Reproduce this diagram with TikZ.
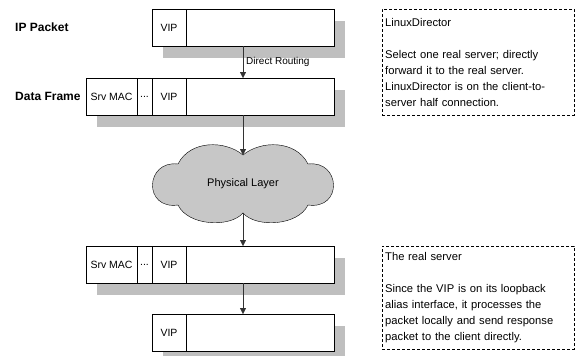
\documentclass[tikz,border=0pt]{standalone}
\usepackage{fontspec}
\setmainfont{Liberation Sans}
\usetikzlibrary{positioning,calc,arrows.meta,backgrounds}

\tikzset{
  field/.style={draw, fill=white, outer sep=0pt, inner sep=0pt, minimum height=37pt,
    font=\fontsize{10.5}{12}\selectfont},
  pktshadow/.style={fill=black!25},
  flow/.style={draw=black!80, -{Triangle[width=6pt,length=6pt]}},
  layer/.style={anchor=west, inner sep=0pt, font=\bfseries\fontsize{12}{14}\selectfont},
  note/.style={draw, dash pattern=on 3pt off 2pt, anchor=north west, align=left,
    text width=186pt, inner xsep=3pt, font=\fontsize{11.2}{16}\selectfont}
}

\begin{document}
\begin{tikzpicture}[x=1pt, y=-1pt]
  \useasboundingbox (0,0) rectangle (581,356);

  % Layer names
  \node[layer] (iplabel) at (15,27) {IP Packet};
  \node[layer] (dflabel) at (15,96) {Data Frame};

  % Packets with VIP only
  \foreach \n/\y in {ip/9, lo/314} {
    \node[field, minimum width=34pt, anchor=north west] (\n-vip) at (152,\y) {VIP};
    \node[field, minimum width=148pt, right=0pt of \n-vip] (\n-data) {};
  };

  % Frames with server MAC
  \foreach \n/\y in {df/78, rs/246} {
    \node[field, minimum width=51pt, anchor=north west] (\n-mac) at (86,\y) {Srv MAC};
    \node[field, minimum width=15pt, right=0pt of \n-mac] (\n-dots) {...};
    \node[field, minimum width=34pt, right=0pt of \n-dots] (\n-vip) {VIP};
    \node[field, minimum width=148pt, right=0pt of \n-vip] (\n-data) {};
  };

  % Shadows
  \begin{scope}[on background layer]
    \foreach \n in {ip, lo}
      \fill[pktshadow] ($(\n-vip.north west)+(11,12)$) rectangle ($(\n-data.south east)+(11,12)$);
    \foreach \n in {df, rs}
      \fill[pktshadow] ($(\n-mac.north west)+(11,12)$) rectangle ($(\n-data.south east)+(11,12)$);
  \end{scope}

  % Cloud
  \draw[fill=black!22] (243,155) .. controls (225,140) and (190,140) .. (178,164)
    .. controls (145,160) and (143,210) .. (178,205)
    .. controls (188,226) and (230,228) .. (243,213)
    .. controls (256,228) and (298,226) .. (308,205)
    .. controls (343,210) and (341,160) .. (308,164)
    .. controls (296,140) and (261,140) .. (243,155) -- cycle;
  \coordinate (phy-top) at (243,155);
  \coordinate (phy-bot) at (243,213);
  \node[font=\fontsize{11}{13}\selectfont] (phy) at (243,184) {Physical Layer};

  % Arrows
  \draw[flow] (ip-data.south -| phy) -- (df-data.north -| phy)
    node[midway, right, inner sep=3pt, font=\fontsize{10}{12}\selectfont] (routing) {Direct Routing};
  \draw[flow] (df-data.south -| phy) -- (phy-top);
  \draw[flow] (phy-bot) -- (rs-data.north -| phy);
  \draw[flow] (rs-data.south -| phy) -- (lo-data.north -| phy);

  % Notes
  \node[note, minimum height=106pt] (director) at (382,9) {LinuxDirector\\[16pt]
    Select one real server; directly\\
    forward it to the real server.\\
    LinuxDirector is on the client-to-\\
    server half connection.};
  \node[note, minimum height=103pt] (realsrv) at (382,246) {The real server\\[16pt]
    Since the VIP is on its loopback\\
    alias interface, it processes the\\
    packet locally and send response\\
    packet to the client directly.};
\end{tikzpicture}
\end{document}
